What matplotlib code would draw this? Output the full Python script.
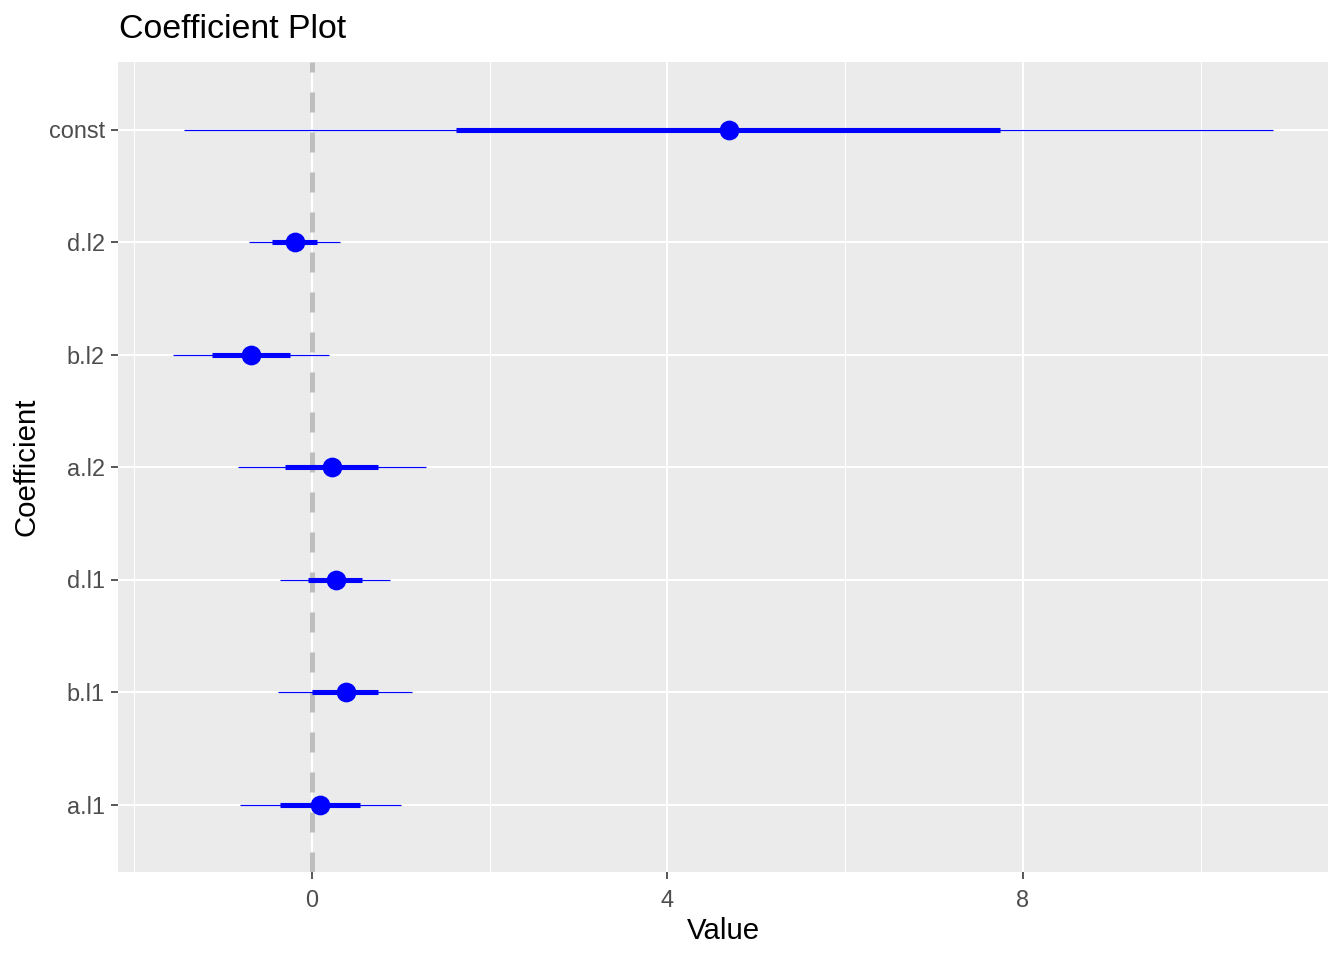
import matplotlib
matplotlib.use("Agg")
import matplotlib.pyplot as plt

# coefficient estimates
coefs = ["a.l1", "b.l1", "d.l1", "a.l2", "b.l2", "d.l2", "const"]
value = [0.09, 0.39, 0.27, 0.23, -0.68, -0.19, 4.69]
inner_lo = [-0.36, 0.00, -0.04, -0.30, -1.12, -0.45, 1.62]
inner_hi = [0.54, 0.75, 0.57, 0.75, -0.25, 0.06, 7.74]
outer_lo = [-0.81, -0.38, -0.36, -0.83, -1.56, -0.71, -1.44]
outer_hi = [1.00, 1.13, 0.88, 1.28, 0.19, 0.32, 10.81]
xticks = [0, 4, 8]
xminor = [-2, 2, 6, 10]

plt.rcParams['font.family'] = ['Liberation Sans', 'DejaVu Sans']

W, H = 1344, 960
fig = plt.figure(figsize=(7, 5), dpi=192)
# panel in pixel coords: x 118..1328, y 62..872
ax = fig.add_axes([118 / W, (H - 872) / H, 1210 / W, 810 / H])
ax.set_facecolor('#EBEBEB')
for s in ax.spines.values():
    s.set_visible(False)

ypos = list(range(1, len(coefs) + 1))

ax.set_xlim(-2.18, 11.43)
ax.set_ylim(0.4, len(coefs) + 0.6)
ax.set_xticks(xticks)
ax.set_xticks(xminor, minor=True)
ax.set_yticks(ypos)
ax.set_yticklabels(coefs)
ax.set_xticklabels([str(t) for t in xticks])

ax.grid(which='major', color='white', linewidth=0.75)
ax.grid(which='minor', axis='x', color='white', linewidth=0.4)
ax.set_axisbelow(True)

ax.tick_params(which='major', length=2.75, width=0.6, color='#333333',
               labelcolor='#4D4D4D', labelsize=8.8, pad=2.2)
ax.tick_params(axis='x', which='major', pad=3.5)
ax.tick_params(which='minor', length=0)

# zero line
ax.axvline(0, color='#BEBEBE', linewidth=1.875, linestyle=(0, (4, 4)), zorder=1)

# outer intervals, inner intervals, points
ax.hlines(ypos, outer_lo, outer_hi, color='blue', linewidth=0.45, zorder=2)
ax.hlines(ypos, inner_lo, inner_hi, color='blue', linewidth=1.9, zorder=3)
ax.plot(value, ypos, 'o', color='blue', markersize=6.4, zorder=4)

fig.text(119 / W, 1 - 30 / H, "Coefficient Plot", fontsize=12.7, va='center', ha='left')
fig.text(723 / W, 1 - 931 / H, "Value", fontsize=11, va='center', ha='center')
fig.text(27 / W, 1 - 467 / H, "Coefficient", fontsize=11, va='center', ha='center',
         rotation=90)

fig.savefig('out.png', dpi=192)
